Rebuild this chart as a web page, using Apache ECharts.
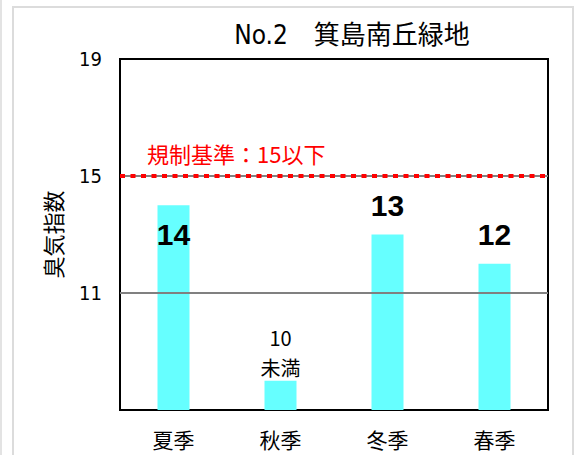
<!DOCTYPE html>
<html><head><meta charset="utf-8">
<script src="https://cdn.jsdelivr.net/npm/echarts@6/dist/echarts.min.js"></script>
<style>html,body{margin:0;padding:0;background:#fff}#c{width:575px;height:455px}</style>
</head><body><div id="c"></div>
<script>
const categories = ['夏季', '秋季', '冬季', '春季'];
const values = [14, 8, 13, 12];
const valueLabels = ['14', '10\n未満', '13', '12'];
const yTicks = [11, 15, 19];
const yMin = 7;
const yMax = 19;
const limitValue = 15;
const limitLabel = '規制基準：15以下';
const titleText = 'No.2　箕島南丘緑地';
const yName = '臭気指数';

const NARROW = "'Liberation Sans Narrow','DejaVu Sans Condensed','Noto Sans CJK JP',sans-serif";
const CJK = "'Noto Sans CJK JP',sans-serif";
const BOLD = "'Liberation Sans','Noto Sans CJK JP',sans-serif";

const barData = values.map((v, i) => {
  const txt = valueLabels[i];
  const isNote = txt.indexOf('\n') >= 0;
  const inside = i === 0;
  return {
    value: v,
    label: {
      show: true,
      formatter: txt,
      position: inside ? 'insideTop' : 'top',
      distance: inside ? 13 : (isNote ? -2 : 13),
      color: '#000',
      fontFamily: isNote ? CJK : BOLD,
      fontSize: isNote ? 20 : 30,
      fontWeight: isNote ? 'normal' : 'bold',
      lineHeight: isNote ? 30 : 32
    }
  };
});

const gridLineValues = yTicks.filter(v => v > yMin && v < yMax);

const chart = echarts.init(document.getElementById('c'), null, {renderer: 'svg'});
chart.setOption({
  animation: false,
  backgroundColor: '#fff',
  graphic: [
    {type: 'line', shape: {x1: 1, y1: 0, x2: 1, y2: 455}, style: {stroke: '#e3e3e3', lineWidth: 2}, z: -10},
    {type: 'rect', shape: {x: 13, y: 7, width: 560, height: 470}, style: {fill: '#fff', stroke: '#dcdcdc', lineWidth: 2}, z: -10},
    {type: 'text', x: 352, y: 35, style: {text: titleText, textAlign: 'center', textVerticalAlign: 'middle', fontSize: 26, fontFamily: NARROW, fill: '#000'}}
  ],
  grid: {left: 120, right: 27, top: 59, bottom: 45, show: true, borderColor: '#000', borderWidth: 2, backgroundColor: '#fff'},
  xAxis: {
    type: 'category',
    data: categories,
    axisLine: {lineStyle: {color: '#000', width: 2}},
    axisTick: {show: false},
    axisLabel: {color: '#000', fontSize: 21, margin: 18, fontFamily: CJK}
  },
  yAxis: {
    type: 'value',
    min: yMin,
    max: yMax,
    name: yName,
    nameLocation: 'middle',
    nameGap: 57,
    nameTextStyle: {color: '#000', fontSize: 22, fontFamily: CJK},
    axisLine: {show: true, lineStyle: {color: '#000', width: 2}},
    axisTick: {show: false},
    splitLine: {show: false},
    axisLabel: {customValues: yTicks, color: '#000', fontSize: 20, margin: 18, fontFamily: NARROW}
  },
  series: [{
    type: 'bar',
    data: barData,
    barWidth: 32,
    itemStyle: {color: '#66ffff'},
    markLine: {
      silent: true,
      symbol: 'none',
      animation: false,
      data: gridLineValues.map(v => ({yAxis: v, lineStyle: {color: '#808080', width: 2, type: 'solid'}, label: {show: false}}))
        .concat([{
          yAxis: limitValue,
          lineStyle: {color: '#ff0000', width: 4, type: [5, 5.5]},
          label: {show: true, position: 'insideStartTop', formatter: limitLabel, color: '#ff0000', fontSize: 22, fontFamily: CJK, distance: [27, 12]}
        }])
    }
  }]
});
</script></body></html>
